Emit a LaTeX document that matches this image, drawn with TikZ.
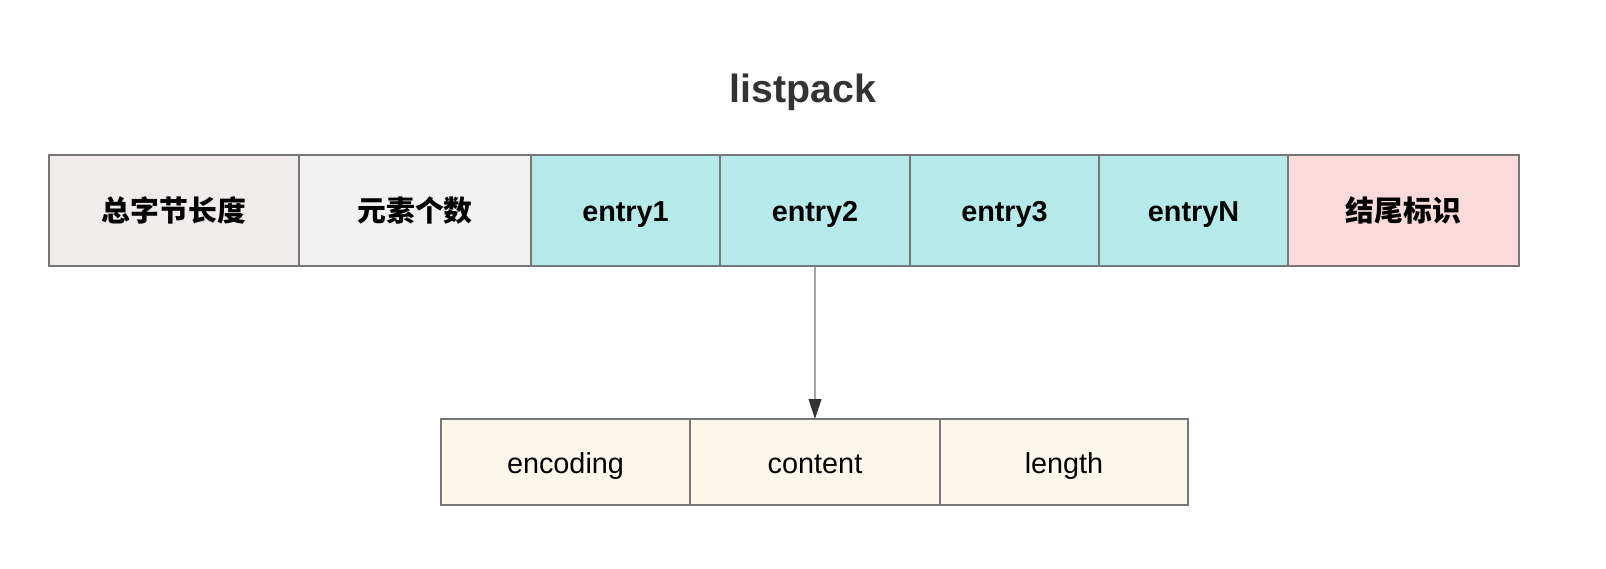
\documentclass[tikz,border=0pt]{standalone}
\usepackage{fontspec}
\setmainfont{Liberation Sans}
\newfontfamily\cjk{Noto Sans CJK SC}
\usetikzlibrary{positioning,arrows.meta}
\definecolor{headgray}{HTML}{F0ECEC}
\definecolor{countgray}{HTML}{F2F2F2}
\definecolor{entrycyan}{HTML}{B6EAEA}
\definecolor{endpink}{HTML}{FADBDA}
\definecolor{fieldcream}{HTML}{FBF7E9}
\definecolor{edgegray}{HTML}{777777}
\definecolor{titlegray}{HTML}{333333}
\tikzstyle{cell} = [draw=edgegray,line width=0.9pt,rectangle,inner sep=0pt,outer sep=0pt,minimum height=2.775cm,text height=15.5pt,text depth=0pt,font=\fontsize{20.5}{24}\selectfont\bfseries]
\tikzstyle{field} = [draw=edgegray,line width=0.9pt,rectangle,inner sep=0pt,outer sep=0pt,minimum height=2.15cm,minimum width=6.225cm,text height=16pt,text depth=0pt,fill=fieldcream,font=\fontsize{20.5}{24}\selectfont]

\begin{document}
\begin{tikzpicture}[node distance=0cm]
    \useasboundingbox (0,0) rectangle (40.15,-14.2);
    \node[font=\fontsize{28}{33}\selectfont\bfseries,text=titlegray] (title) at (20.08,-2.3) {listpack};
    % top row
    \node[cell,anchor=north west,fill=headgray,minimum width=6.25cm] (total) at (1.225,-3.875) {\cjk\bfseries 总字节长度};
    \node[cell,fill=countgray,minimum width=5.8cm] (num) [right=of total] {\cjk\bfseries 元素个数};
    \node[cell,fill=entrycyan,minimum width=4.725cm] (e1) [right=of num] {entry1};
    \node[cell,fill=entrycyan,minimum width=4.75cm] (e2) [right=of e1] {entry2};
    \node[cell,fill=entrycyan,minimum width=4.725cm] (e3) [right=of e2] {entry3};
    \node[cell,fill=entrycyan,minimum width=4.725cm] (eN) [right=of e3] {entryN};
    \node[cell,fill=endpink,minimum width=5.775cm] (tail) [right=of eN] {\cjk\bfseries 结尾标识};
    % entry fields
    \node[field,anchor=north west] (enc) at (11.025,-10.475) {encoding};
    \node[field,minimum width=6.25cm] (content) [right=of enc] {content};
    \node[field,minimum width=6.2cm] (len) [right=of content] {length};
    \draw[edgegray,line width=0.9pt,-{Triangle[length=0.5cm,width=0.32cm,color=titlegray]}] (e2.south) -- (content.north);
\end{tikzpicture}
\end{document}
